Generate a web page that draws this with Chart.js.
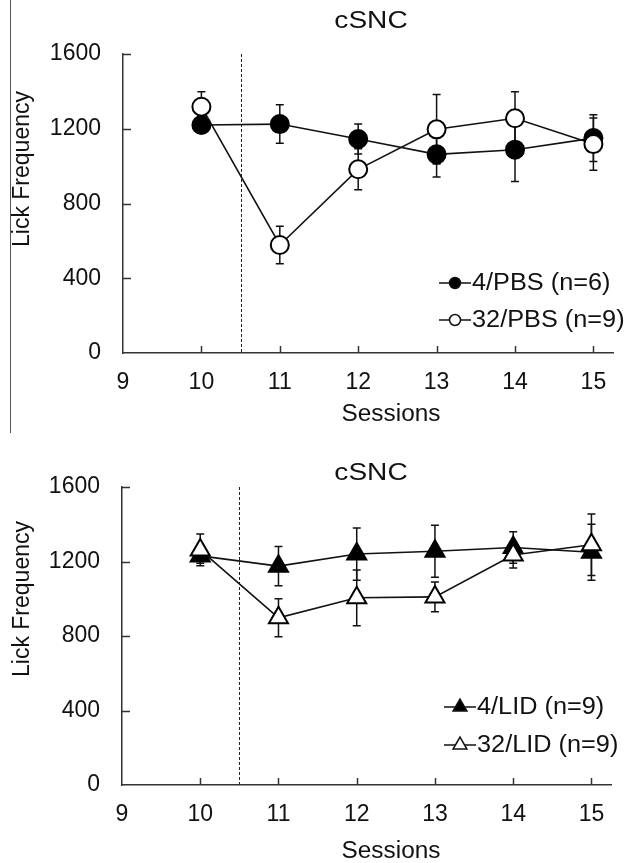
<!DOCTYPE html>
<html>
<head>
<meta charset="utf-8">
<script src="https://cdn.jsdelivr.net/npm/chart.js@4.4.1/dist/chart.umd.min.js"></script>
<style>
body { margin: 0; background: #fff; }
#wrap { position: relative; width: 624px; height: 863px; overflow: hidden; }
canvas { position: absolute; left: 0; }
#c1 { top: 0; }
#c2 { top: 430px; }
#edge { position: absolute; left: 10px; top: 0; width: 1px; height: 433px; background: #555; }
</style>
</head>
<body>
<div id="wrap">
<canvas id="c1" width="624" height="430"></canvas>
<canvas id="c2" width="624" height="433"></canvas>
<div id="edge"></div>
</div>
<script>
// sessions and tick values
const sessions = [10, 11, 12, 13, 14, 15]
const xTicks = [9, 10, 11, 12, 13, 14, 15]
const yTicks = [0, 400, 800, 1200, 1600]

// top panel (PBS)
const pbs4 = [1220, 1225, 1145, 1063, 1088, 1150]
const pbs4Err = [40, 103, 80, 121, 170, 125]
const pbs32 = [1318, 578, 983, 1197, 1256, 1118]
const pbs32Err = [80, 100, 110, 186, 142, 140]

// bottom panel (LID)
const lid4 = [1230, 1175, 1240, 1255, 1275, 1250]
const lid4Err = [40, 105, 140, 140, 85, 150]
const lid32 = [1262, 898, 1005, 1010, 1235, 1290]
const lid32Err = [85, 102, 150, 80, 70, 165]

const FONT = "'Liberation Sans', Arial, sans-serif"
const INK = '#111'

function drawMarker(ctx, style, cx, cy, r, filled) {
	ctx.beginPath()
	if (style === 'triangle') {
		let rad = 0
		ctx.moveTo(cx + Math.sin(rad) * r, cy - Math.cos(rad) * r)
		rad += Math.PI * 2 / 3
		ctx.lineTo(cx + Math.sin(rad) * r, cy - Math.cos(rad) * r)
		rad += Math.PI * 2 / 3
		ctx.lineTo(cx + Math.sin(rad) * r, cy - Math.cos(rad) * r)
		ctx.closePath()
	} else {
		ctx.arc(cx, cy, r, 0, Math.PI * 2)
	}
	ctx.fillStyle = filled ? '#000' : '#fff'
	ctx.fill()
	ctx.stroke()
}

// text stretched a little sideways, like the scanned figure
function wideText(ctx, text, x, y, sx) {
	ctx.save()
	ctx.translate(x, y)
	ctx.scale(sx, 1)
	ctx.fillText(text, 0, 0)
	ctx.restore()
}

const decor = {
	id: 'decor',
	beforeDatasetsDraw(chart, args, opts) {
		const ctx = chart.ctx
		const x = chart.scales.x
		const y = chart.scales.y
		ctx.save()

		// dotted divider between sessions 10 and 11
		const dx = Math.round(x.getPixelForValue(10.5)) + 0.5
		ctx.strokeStyle = '#222'
		ctx.lineWidth = 1
		ctx.setLineDash([3, 2])
		ctx.beginPath()
		ctx.moveTo(dx, y.getPixelForValue(1600))
		ctx.lineTo(dx, y.getPixelForValue(0))
		ctx.stroke()
		ctx.setLineDash([])

		// inner tick marks
		ctx.strokeStyle = '#333'
		ctx.lineWidth = 1.5
		const y0 = y.getPixelForValue(0)
		xTicks.slice(1).forEach(v => {
			const px = Math.round(x.getPixelForValue(v)) + 0.5
			ctx.beginPath()
			ctx.moveTo(px, y0)
			ctx.lineTo(px, y0 - 7)
			ctx.stroke()
		})
		yTicks.slice(1).forEach(v => {
			const py = Math.round(y.getPixelForValue(v)) + 0.5
			ctx.beginPath()
			ctx.moveTo(x.left, py)
			ctx.lineTo(x.left + 8, py)
			ctx.stroke()
		})

		// error bars
		ctx.strokeStyle = INK
		ctx.lineWidth = 1.5
		opts.errors.forEach((errs, di) => {
			const vals = chart.data.datasets[di].data
			vals.forEach((pt, i) => {
				const px = x.getPixelForValue(pt.x)
				const hi = y.getPixelForValue(pt.y + errs[i])
				const lo = y.getPixelForValue(pt.y - errs[i])
				ctx.beginPath()
				ctx.moveTo(px, hi)
				ctx.lineTo(px, lo)
				ctx.moveTo(px - 4, hi)
				ctx.lineTo(px + 4, hi)
				ctx.moveTo(px - 4, lo)
				ctx.lineTo(px + 4, lo)
				ctx.stroke()
			})
		})
		ctx.restore()
	},
	afterDraw(chart, args, opts) {
		const ctx = chart.ctx
		ctx.save()
		ctx.fillStyle = INK
		ctx.textBaseline = 'middle'

		// title
		ctx.textAlign = 'center'
		ctx.font = '24px ' + FONT
		wideText(ctx, opts.title, 371, opts.titleY, 1.17)

		// axis titles
		ctx.font = '23px ' + FONT
		wideText(ctx, 'Sessions', 391, opts.sessionsY, 1.06)
		ctx.save()
		ctx.translate(23, 169)
		ctx.rotate(-Math.PI / 2)
		ctx.fillText('Lick Frequency', 0, 0)
		ctx.restore()

		// legend
		ctx.textAlign = 'left'
		ctx.font = '23px ' + FONT
		opts.legend.forEach((item, i) => {
			const ly = opts.legendY[i]
			ctx.strokeStyle = INK
			ctx.lineWidth = 1.5
			ctx.beginPath()
			ctx.moveTo(opts.legendX, ly)
			ctx.lineTo(opts.legendX + 32, ly)
			ctx.stroke()
			drawMarker(ctx, item.style, opts.legendX + 16, ly, item.style === 'triangle' ? 8 : 5.5, item.filled)
			ctx.fillStyle = INK
			wideText(ctx, item.label, opts.legendX + 33, ly + 1, 1.1)
		})
		ctx.restore()
	}
}

function points(vals) {
	return vals.map((v, i) => ({ x: sessions[i], y: v }))
}

function series(vals, style, filled, order) {
	return {
		data: points(vals),
		borderColor: INK,
		borderWidth: 1.6,
		pointStyle: style,
		pointRadius: style === 'triangle' ? 11 : 9,
		pointBorderWidth: 2,
		pointBorderColor: '#000',
		pointBackgroundColor: filled ? '#000' : '#fff',
		tension: 0,
		order: order
	}
}

function makeChart(id, sets, decorOpts, pad) {
	new Chart(document.getElementById(id), {
		type: 'line',
		data: { datasets: sets },
		options: {
			responsive: false,
			animation: false,
			events: [],
			layout: { padding: pad },
			plugins: {
				legend: { display: false },
				tooltip: { enabled: false },
				decor: decorOpts
			},
			scales: {
				x: {
					type: 'linear',
					min: 9,
					max: 15.25,
					afterBuildTicks: scale => { scale.ticks = xTicks.map(v => ({ value: v })) },
					afterFit: scale => { scale.height = pad.xh },
					grid: { display: false, drawTicks: false },
					border: { color: '#333', width: 1.5 },
					ticks: { color: INK, padding: 16, font: { family: FONT, size: 23 }, maxRotation: 0, callback: v => String(v) }
				},
				y: {
					min: 0,
					max: 1600,
					afterBuildTicks: scale => { scale.ticks = yTicks.map(v => ({ value: v })) },
					afterFit: scale => { scale.width = 122 },
					grid: { display: false, drawTicks: false },
					border: { color: '#333', width: 1.5 },
					ticks: { color: INK, padding: 22, font: { family: FONT, size: 23 }, callback: v => String(v) }
				}
			}
		},
		plugins: [decor]
	})
}

makeChart('c1',
	[series(pbs4, 'circle', true, 2), series(pbs32, 'circle', false, 1)],
	{
		title: 'cSNC', titleY: 21, sessionsY: 415,
		errors: [pbs4Err, pbs32Err],
		legendX: 439, legendY: [283, 320],
		legend: [
			{ label: '4/PBS (n=6)', style: 'circle', filled: true },
			{ label: '32/PBS (n=9)', style: 'circle', filled: false }
		]
	},
	{ left: 1, top: 54, right: 4, bottom: 0, xh: 77 })

makeChart('c2',
	[series(lid4, 'triangle', true, 2), series(lid32, 'triangle', false, 1)],
	{
		title: 'cSNC', titleY: 43, sessionsY: 422,
		errors: [lid4Err, lid32Err],
		legendX: 444, legendY: [277, 315],
		legend: [
			{ label: '4/LID (n=9)', style: 'triangle', filled: true },
			{ label: '32/LID (n=9)', style: 'triangle', filled: false }
		]
	},
	{ left: 0, top: 57, right: 6, bottom: 0, xh: 78 })
</script>
</body>
</html>
